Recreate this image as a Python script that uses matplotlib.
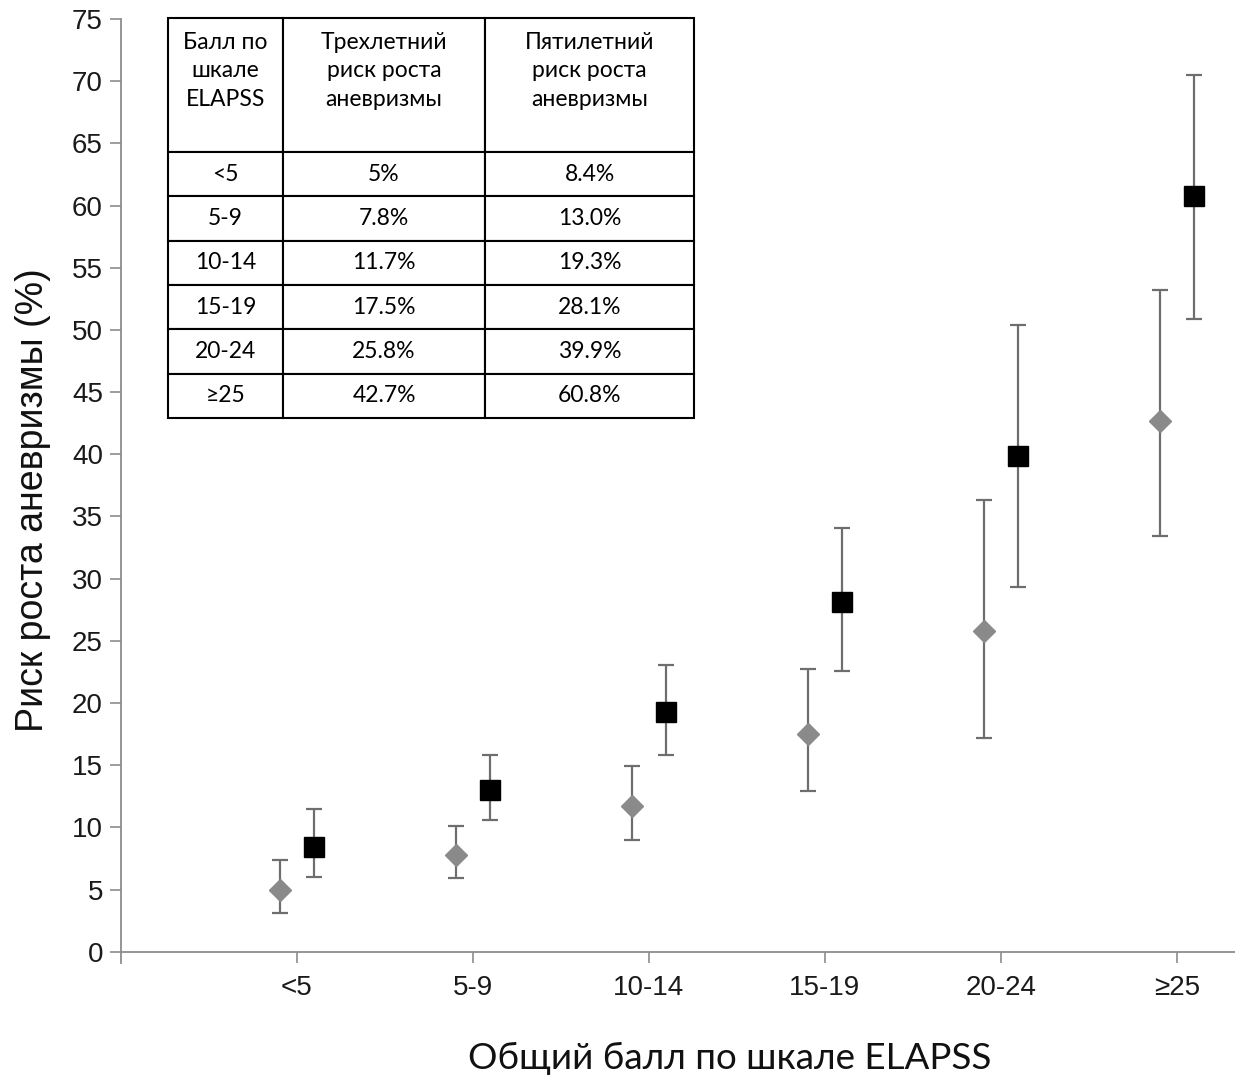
import matplotlib
matplotlib.use("Agg")
import matplotlib.pyplot as plt
import numpy as np

plt.rcParams["font.family"] = "Liberation Sans"

categories = ["<5", "5-9", "10-14", "15-19", "20-24", "≥25"]

# 3-year risk (grey diamonds) with CI bounds
three_year = [5.0, 7.8, 11.7, 17.5, 25.8, 42.7]
three_lo = [3.1, 5.9, 9.0, 12.9, 17.2, 33.4]
three_hi = [7.4, 10.1, 14.9, 22.7, 36.3, 53.2]

# 5-year risk (black squares) with CI bounds
five_year = [8.4, 13.0, 19.3, 28.1, 39.9, 60.8]
five_lo = [6.0, 10.6, 15.8, 22.6, 29.3, 50.9]
five_hi = [11.5, 15.8, 23.1, 34.1, 50.4, 70.5]

# table content
table_header = ["Балл по\nшкале\nELAPSS\n", "Трехлетний\nриск роста\nаневризмы\n",
                "Пятилетний\nриск роста\nаневризмы\n"]
table_three = ["5%", "7.8%", "11.7%", "17.5%", "25.8%", "42.7%"]
table_five = ["8.4%", "13.0%", "19.3%", "28.1%", "39.9%", "60.8%"]

fig = plt.figure(figsize=(12.35, 10.83), dpi=100)
ax = fig.add_axes([121 / 1235, 1 - 963 / 1083, 1 - 121 / 1235, 944 / 1083])

x = np.arange(1, len(categories) + 1)
three = np.array(three_year)
five = np.array(five_year)

ax.errorbar(x - 0.097, three,
            yerr=[three - np.array(three_lo), np.array(three_hi) - three],
            fmt="D", color="#8a8a8a", markersize=11, ecolor="#6e6e6e",
            elinewidth=1.6, capsize=6, capthick=1.6, zorder=3)
ax.errorbar(x + 0.095, five,
            yerr=[five - np.array(five_lo), np.array(five_hi) - five],
            fmt="s", color="black", markersize=14, ecolor="#6e6e6e",
            elinewidth=1.6, capsize=6, capthick=1.6, zorder=3)

ax.set_xlim(0, 6.33)
ax.set_ylim(-0.9, 75)
ax.set_yticks(np.arange(0, 76, 5))
ax.set_xticks(x)
ax.set_xticklabels(categories)

for s in ["top", "right"]:
    ax.spines[s].set_visible(False)
ax.spines["bottom"].set_position(("data", 0))
for s in ["left", "bottom"]:
    ax.spines[s].set_color("#8c8c8c")
    ax.spines[s].set_linewidth(1.3)
ax.tick_params(axis="both", colors="#8c8c8c", length=8, width=1.2)
ax.tick_params(axis="y", labelsize=20, labelcolor="#1a1a1a", pad=5)
ax.tick_params(axis="x", labelsize=20, labelcolor="#1a1a1a", pad=9)

ax.set_ylabel("Риск роста аневризмы (%)", fontsize=27, color="#111111")
ax.yaxis.set_label_coords((33 - 121) / 1114, (963 - 500) / 944)
ax.yaxis.label.set_va("center")
ax.set_xlabel("Общий балл по шкале ELAPSS", fontsize=26.5, family="Lato",
              color="#111111")
ax.xaxis.set_label_coords((730 - 121) / 1114, (963 - 1058) / 944)
ax.xaxis.label.set_va("center")

rows = [[c, t, f] for c, t, f in zip(categories, table_three, table_five)]
tbl = ax.table(cellText=rows, colLabels=table_header, cellLoc="center",
               colWidths=[115, 202, 209],
               bbox=[(168 - 121) / 1114, (963 - 418) / 944, 526 / 1114, 400 / 944])
tbl.auto_set_font_size(False)
for (r, c), cell in tbl.get_celld().items():
    cell.set_linewidth(1.5)
    cell.set_edgecolor("black")
    cell.get_text().set_fontfamily("Lato")
    cell.get_text().set_fontsize(16.5)
    cell.set_height(134 if r == 0 else 44.3)
    if r == 0:
        cell.get_text().set_linespacing(1.45)

fig.savefig("out.png", dpi=100)
